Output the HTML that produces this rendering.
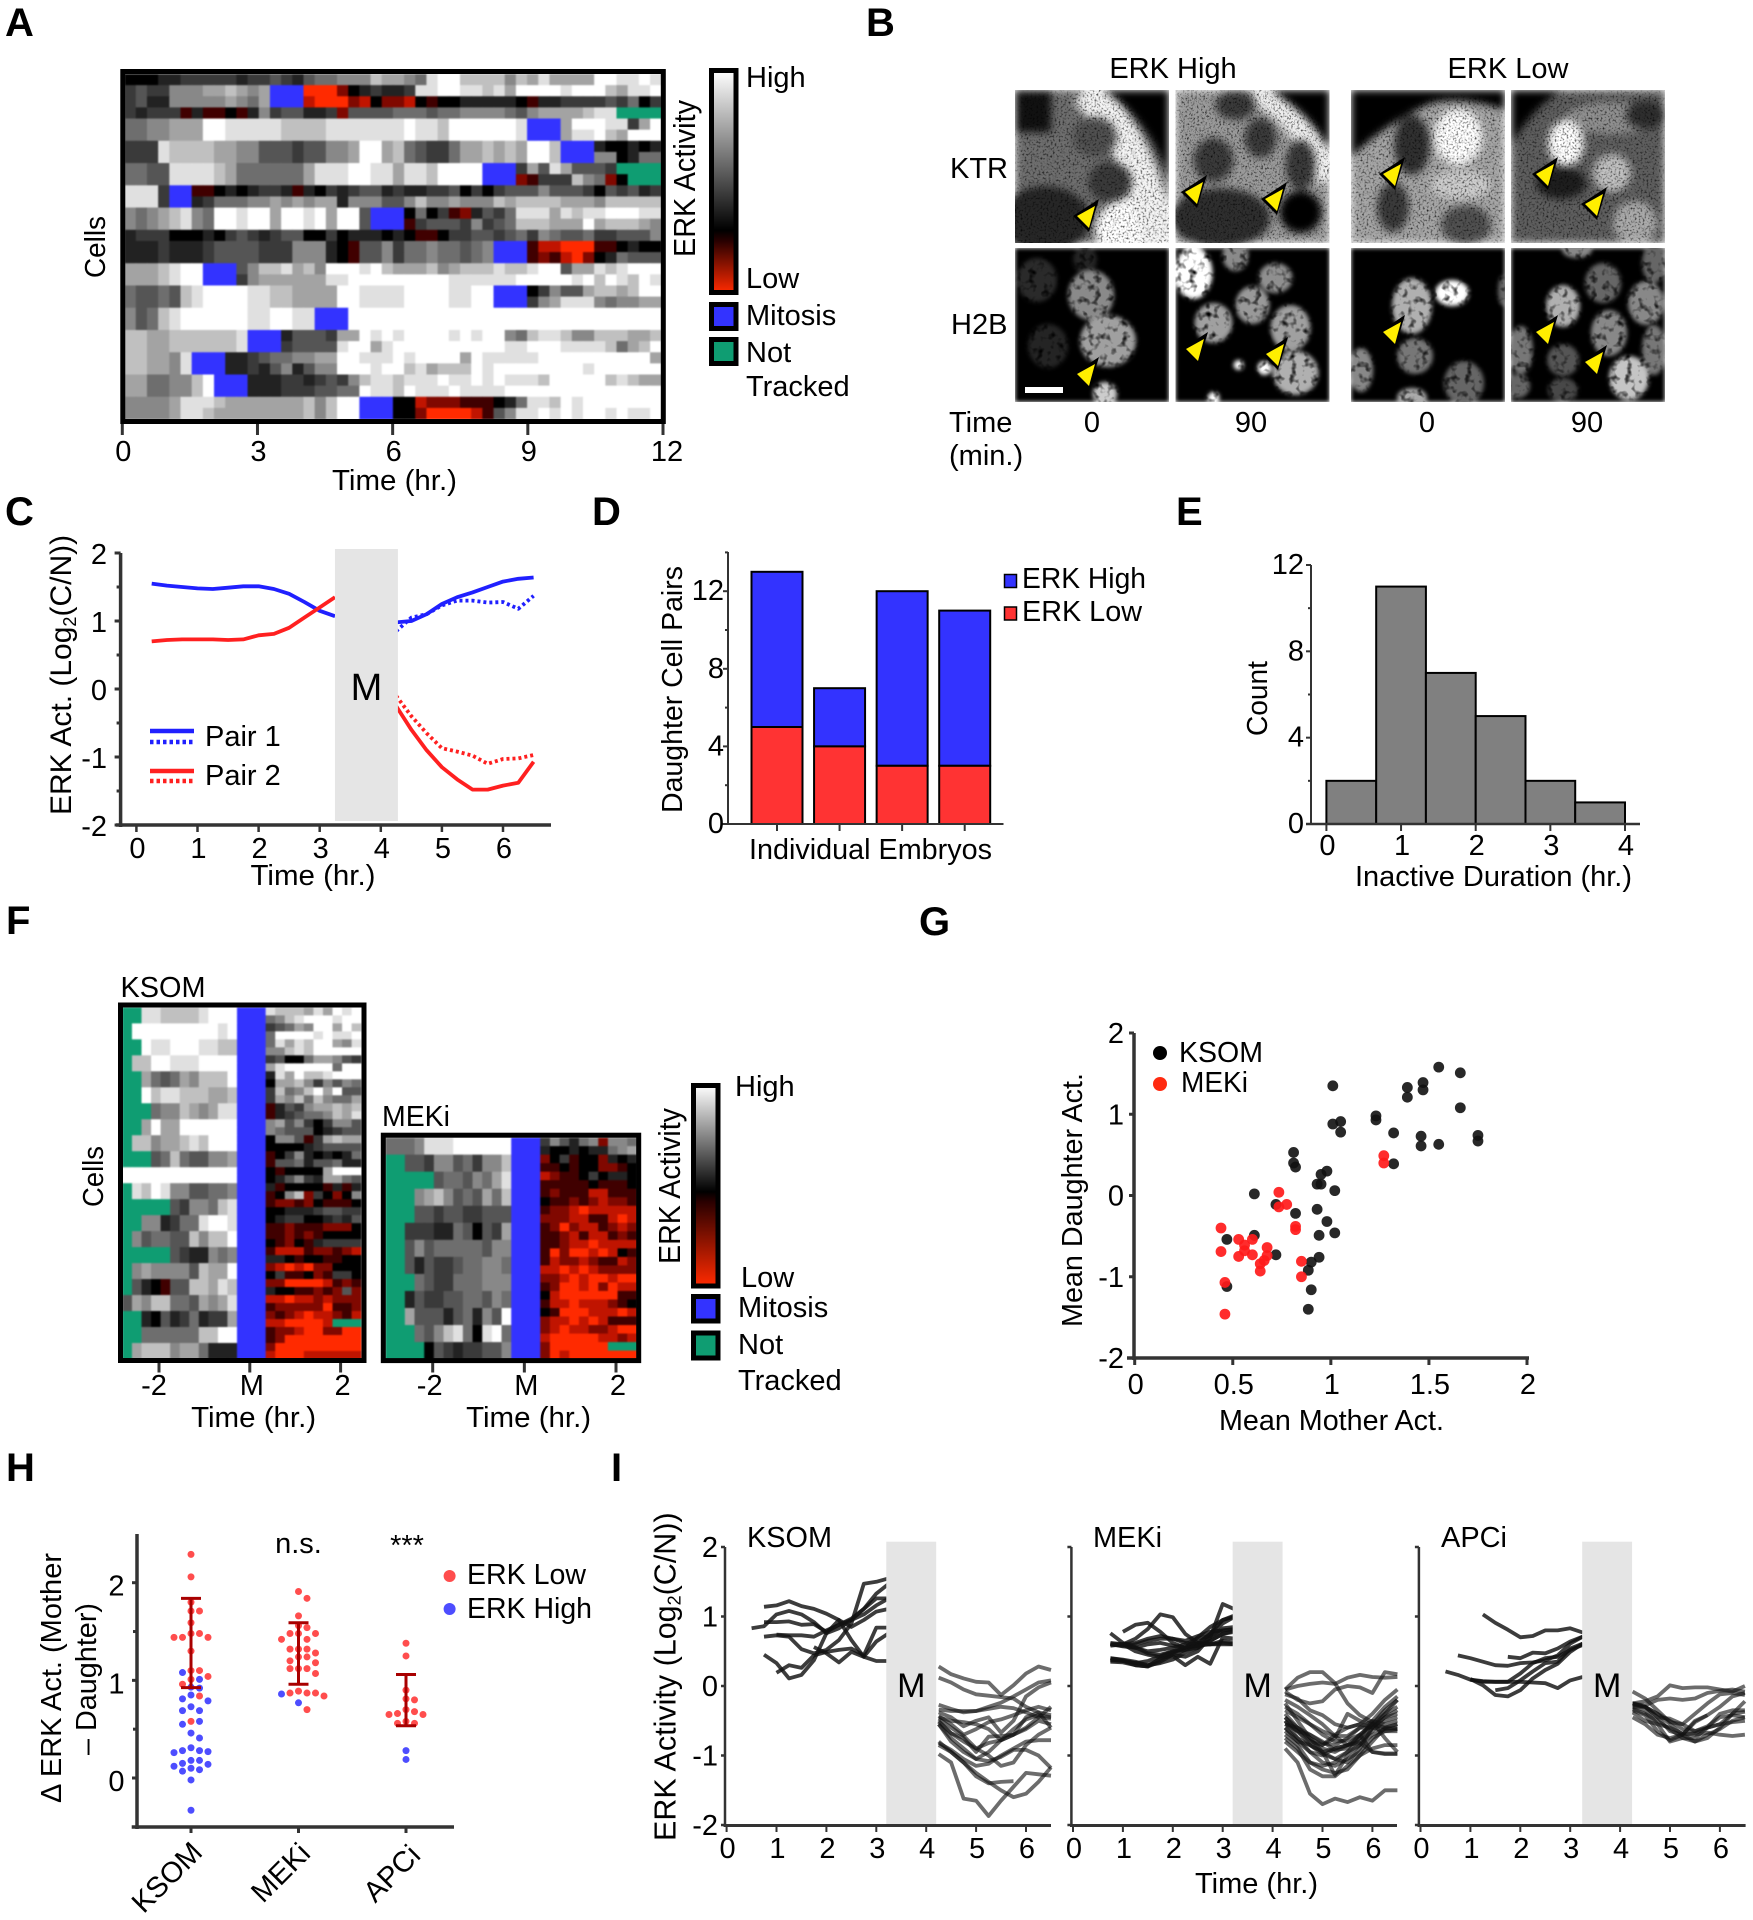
<!DOCTYPE html>
<html lang="en">
<head>
<meta charset="utf-8">
<title>ERK activity figure</title>
<style>
html,body{margin:0;padding:0;background:#fff}
svg{display:block}
text{font-family:"Liberation Sans",Arial,sans-serif;font-size:29px;fill:#000}
.big{font-weight:bold;font-size:40px}
</style>
</head>
<body>
<svg id="figure" xmlns="http://www.w3.org/2000/svg" width="1753" height="1920" viewBox="0 0 1753 1920">
<defs>
<linearGradient id="gradA" x1="0" y1="0" x2="0" y2="1">
<stop offset="0" stop-color="#fff"/><stop offset="0.72" stop-color="#000"/><stop offset="0.77" stop-color="#2a0000"/><stop offset="1" stop-color="#ff2a00"/>
</linearGradient>
<linearGradient id="gradF" x1="0" y1="0" x2="0" y2="1">
<stop offset="0" stop-color="#fff"/><stop offset="0.53" stop-color="#000"/><stop offset="0.58" stop-color="#2a0000"/><stop offset="1" stop-color="#ff2a00"/>
</linearGradient>
<filter id="soft" x="-2%" y="-2%" width="104%" height="104%" color-interpolation-filters="sRGB">
<feGaussianBlur stdDeviation="0.7"/>
</filter>
<filter id="speckle" x="0" y="0" width="1" height="1" color-interpolation-filters="sRGB">
<feGaussianBlur in="SourceGraphic" stdDeviation="4" result="b"/>
<feTurbulence type="fractalNoise" baseFrequency="0.5" numOctaves="2" seed="4" result="n"/>
<feColorMatrix in="n" type="matrix" values="0 0 0 2.2 -0.1 0 0 0 2.2 -0.1 0 0 0 2.2 -0.1 0 0 0 0 1" result="g"/>
<feComposite in="b" in2="g" operator="arithmetic" k1="1" k2="0" k3="0" k4="0"/>
</filter>
<filter id="nuclei" x="0" y="0" width="1" height="1" color-interpolation-filters="sRGB">
<feGaussianBlur in="SourceGraphic" stdDeviation="2" result="b"/>
<feTurbulence type="fractalNoise" baseFrequency="0.14" numOctaves="2" seed="9" result="n"/>
<feColorMatrix in="n" type="matrix" values="0 0 0 2.6 -0.3 0 0 0 2.6 -0.3 0 0 0 2.6 -0.3 0 0 0 0 1" result="g"/>
<feComposite in="b" in2="g" operator="arithmetic" k1="1" k2="0" k3="0" k4="0"/>
</filter>
</defs>

<!-- panel letters -->
<text class="big" x="5" y="36">A</text>
<text class="big" x="866" y="36">B</text>
<text class="big" x="5" y="525">C</text>
<text class="big" x="592" y="525">D</text>
<text class="big" x="1176" y="525">E</text>
<text class="big" x="6" y="934">F</text>
<text class="big" x="919" y="935">G</text>
<text class="big" x="6" y="1481">H</text>
<text class="big" x="611" y="1481">I</text>

<!-- panel A static -->
<g id="panel-a"></g>
<text transform="translate(105,278) rotate(-90)" textLength="62" lengthAdjust="spacingAndGlyphs">Cells</text>
<text x="394.5" y="490" text-anchor="middle" textLength="125" lengthAdjust="spacingAndGlyphs">Time (hr.)</text>
<text transform="translate(695,257) rotate(-90)" textLength="157" lengthAdjust="spacingAndGlyphs" style="font-size:31px">ERK Activity</text>
<rect x="711.5" y="70.5" width="24.5" height="222" fill="url(#gradA)" stroke="#000" stroke-width="5"/>
<text x="746" y="87">High</text>
<text x="746" y="288">Low</text>
<rect x="711.5" y="304.5" width="24.5" height="24" fill="#3333ff" stroke="#000" stroke-width="5"/>
<text x="746" y="325">Mitosis</text>
<rect x="711.5" y="339.5" width="24.5" height="24" fill="#0f9d72" stroke="#000" stroke-width="5"/>
<text x="746" y="362">Not</text>
<text x="746" y="396">Tracked</text>

<!-- panel B static -->
<g>
<text x="1173" y="78" text-anchor="middle">ERK High</text>
<text x="1508" y="78" text-anchor="middle">ERK Low</text>
<text x="950" y="178">KTR</text>
<text x="951" y="334">H2B</text>
<text x="949" y="432">Time</text>
<text x="949" y="465">(min.)</text>
<text x="1092" y="432" text-anchor="middle">0</text>
<text x="1251" y="432" text-anchor="middle">90</text>
<text x="1427" y="432" text-anchor="middle">0</text>
<text x="1587" y="432" text-anchor="middle">90</text>

<svg x="1015" y="90" width="154" height="153" viewBox="0 0 154 153"><g filter="url(#speckle)">
<rect width="154" height="153" fill="#6e6e6e"/><ellipse cx="125" cy="140" rx="45" ry="35" fill="#fff"/>
<path d="M70 0Q125 50 145 153" fill="none" stroke="#f4f4f4" stroke-width="34"/><path d="M88 0Q135 30 154 90L154 0Z" fill="#000"/>
<rect width="36" height="42" fill="#111"/><ellipse cx="30" cy="130" rx="45" ry="34" fill="#262626"/>
<ellipse cx="95" cy="92" rx="22" ry="20" fill="#3a3a3a"/><ellipse cx="80" cy="47" rx="22" ry="20" fill="#505050"/></g></svg>
<svg x="1175.5" y="90" width="154" height="153" viewBox="0 0 154 153"><g filter="url(#speckle)">
<rect width="154" height="153" fill="#9a9a9a"/><path d="M80 0Q130 30 154 90" fill="none" stroke="#eee" stroke-width="24"/>
<path d="M95 0Q135 25 154 60L154 0Z" fill="#000"/><ellipse cx="45" cy="128" rx="50" ry="30" fill="#2e2e2e"/>
<ellipse cx="38" cy="70" rx="20" ry="22" fill="#3a3a3a"/><ellipse cx="85" cy="48" rx="16" ry="20" fill="#3a3a3a"/><ellipse cx="60" cy="15" rx="20" ry="15" fill="#3a3a3a"/><ellipse cx="125" cy="75" rx="15" ry="25" fill="#3a3a3a"/>
<circle cx="125" cy="122" r="21" fill="#000"/></g></svg>
<svg x="1351" y="90" width="154" height="153" viewBox="0 0 154 153"><g filter="url(#speckle)">
<rect width="154" height="153" fill="#a5a5a5"/><path d="M0 0L154 0L154 20Q110 5 80 13Q35 33 0 67Z" fill="#000"/>
<ellipse cx="107" cy="47" rx="24" ry="28" fill="#fff"/><ellipse cx="61" cy="55" rx="18" ry="30" fill="#303030"/><ellipse cx="42" cy="117" rx="16" ry="25" fill="#3a3a3a"/><ellipse cx="115" cy="135" rx="25" ry="20" fill="#505050"/><ellipse cx="110" cy="95" rx="30" ry="15" fill="#ccc"/></g></svg>
<svg x="1511" y="90" width="154" height="153" viewBox="0 0 154 153"><g filter="url(#speckle)">
<rect width="154" height="153" fill="#5e5e5e"/><ellipse cx="100" cy="28" rx="45" ry="16" fill="#8f8f8f"/><path d="M0 0L50 0Q20 20 0 55Z" fill="#000"/>
<ellipse cx="50" cy="93" rx="25" ry="16" fill="#1e1e1e"/><ellipse cx="135" cy="25" rx="20" ry="14" fill="#2e2e2e"/>
<ellipse cx="55" cy="53" rx="18" ry="23" fill="#fff"/><circle cx="101" cy="83" r="19" fill="#c0c0c0"/><circle cx="124" cy="133" r="22" fill="#aaa"/></g></svg>

<svg x="1015" y="248" width="154" height="154" viewBox="0 0 154 154"><g filter="url(#nuclei)">
<rect width="154" height="154" fill="#000"/><ellipse cx="22" cy="32" rx="20" ry="22" fill="#2a2a2a"/><ellipse cx="70" cy="12" rx="12" ry="14" fill="#242424"/><ellipse cx="33" cy="98" rx="20" ry="22" fill="#242424"/>
<ellipse cx="76" cy="47" rx="23" ry="25" fill="#8a8a8a"/><ellipse cx="93" cy="93" rx="28" ry="26" fill="#a0a0a0"/><ellipse cx="90" cy="146" rx="12" ry="12" fill="#ccc"/></g></svg>
<svg x="1175.5" y="248" width="154" height="154" viewBox="0 0 154 154"><g filter="url(#nuclei)">
<rect width="154" height="154" fill="#000"/><ellipse cx="18" cy="25" rx="19" ry="26" fill="#fff"/><ellipse cx="60" cy="8" rx="13" ry="15" fill="#8a8a8a"/><ellipse cx="100" cy="30" rx="17" ry="15" fill="#8f8f8f"/><ellipse cx="77" cy="57" rx="17" ry="19" fill="#999"/><ellipse cx="38" cy="75" rx="19" ry="20" fill="#a0a0a0"/><ellipse cx="115" cy="80" rx="20" ry="23" fill="#a0a0a0"/><ellipse cx="120" cy="125" rx="23" ry="22" fill="#b0b0b0"/><circle cx="89" cy="120" r="7" fill="#fff"/><circle cx="63" cy="117" r="5" fill="#fff"/><circle cx="38" cy="150" r="6" fill="#fff"/></g></svg>
<svg x="1351" y="248" width="154" height="154" viewBox="0 0 154 154"><g filter="url(#nuclei)">
<rect width="154" height="154" fill="#000"/><ellipse cx="61" cy="58" rx="20" ry="28" fill="#b0b0b0"/><ellipse cx="101" cy="45" rx="17" ry="13" fill="#fff"/><ellipse cx="64" cy="108" rx="18" ry="18" fill="#777"/><ellipse cx="10" cy="122" rx="12" ry="22" fill="#888"/><ellipse cx="113" cy="135" rx="20" ry="22" fill="#666"/><ellipse cx="61" cy="150" rx="15" ry="10" fill="#aaa"/><ellipse cx="152" cy="43" rx="5" ry="15" fill="#666"/></g></svg>
<svg x="1511" y="248" width="154" height="154" viewBox="0 0 154 154"><g filter="url(#nuclei)">
<rect width="154" height="154" fill="#000"/><ellipse cx="52" cy="58" rx="17" ry="21" fill="#b0b0b0"/><ellipse cx="92" cy="35" rx="18" ry="20" fill="#666"/><ellipse cx="135" cy="55" rx="18" ry="22" fill="#888"/><ellipse cx="98" cy="85" rx="18" ry="23" fill="#888"/><ellipse cx="52" cy="112" rx="16" ry="16" fill="#555"/><ellipse cx="10" cy="102" rx="12" ry="24" fill="#777"/><ellipse cx="118" cy="130" rx="20" ry="22" fill="#c5c5c5"/><ellipse cx="143" cy="102" rx="12" ry="25" fill="#777"/><ellipse cx="52" cy="142" rx="15" ry="12" fill="#484848"/><ellipse cx="66" cy="2" rx="15" ry="8" fill="#888"/><ellipse cx="143" cy="15" rx="12" ry="20" fill="#666"/><circle cx="7" cy="138" r="12" fill="#666"/></g></svg>
<rect x="1025" y="387" width="38" height="6" fill="#fff"/>
<g id="b-arrows"></g>
</g>

<!-- panel C static -->
<g id="panel-c"></g>
<text transform="translate(71,815) rotate(-90)" style="font-size:30px">ERK Act. (Log<tspan dy="5" style="font-size:18px">2</tspan><tspan dy="-5">(C/N))</tspan></text>
<text x="313" y="885" text-anchor="middle" textLength="125" lengthAdjust="spacingAndGlyphs">Time (hr.)</text>
<line x1="150" y1="731" x2="194" y2="731" stroke="#2020ff" stroke-width="4.5"/>
<line x1="150" y1="742" x2="194" y2="742" stroke="#2020ff" stroke-width="4.5" stroke-dasharray="3.5 3"/>
<text x="205" y="746">Pair 1</text>
<line x1="150" y1="771" x2="194" y2="771" stroke="#ff2020" stroke-width="4.5"/>
<line x1="150" y1="781" x2="194" y2="781" stroke="#ff2020" stroke-width="4.5" stroke-dasharray="3.5 3"/>
<text x="205" y="785">Pair 2</text>

<!-- panel D static -->
<g id="panel-d"></g>
<text transform="translate(682,813) rotate(-90)" textLength="247" lengthAdjust="spacingAndGlyphs">Daughter Cell Pairs</text>
<text x="749" y="859" textLength="243" lengthAdjust="spacingAndGlyphs">Individual Embryos</text>
<rect x="1004.5" y="574.5" width="12" height="13" fill="#3333ff" stroke="#000" stroke-width="1.5"/>
<text x="1022" y="588" textLength="124" lengthAdjust="spacingAndGlyphs">ERK High</text>
<rect x="1004.5" y="607" width="12" height="13" fill="#ff3333" stroke="#000" stroke-width="1.5"/>
<text x="1022" y="621" textLength="120" lengthAdjust="spacingAndGlyphs">ERK Low</text>

<!-- panel E static -->
<g id="panel-e"></g>
<text transform="translate(1267,736) rotate(-90)" textLength="75" lengthAdjust="spacingAndGlyphs">Count</text>
<text x="1355" y="886" textLength="277" lengthAdjust="spacingAndGlyphs">Inactive Duration (hr.)</text>

<!-- panel F static -->
<g id="panel-f"></g>
<text x="120.5" y="997" textLength="85" lengthAdjust="spacingAndGlyphs">KSOM</text>
<text x="382" y="1126" textLength="68" lengthAdjust="spacingAndGlyphs">MEKi</text>
<text transform="translate(103,1207) rotate(-90)" textLength="61" lengthAdjust="spacingAndGlyphs">Cells</text>
<text x="253.6" y="1427" text-anchor="middle" textLength="125" lengthAdjust="spacingAndGlyphs">Time (hr.)</text>
<text x="528.6" y="1427" text-anchor="middle" textLength="125" lengthAdjust="spacingAndGlyphs">Time (hr.)</text>
<text transform="translate(680,1264) rotate(-90)" textLength="156" lengthAdjust="spacingAndGlyphs" style="font-size:31px">ERK Activity</text>
<rect x="693.5" y="1085.5" width="24.5" height="200.5" fill="url(#gradF)" stroke="#000" stroke-width="5"/>
<text x="735" y="1096">High</text>
<text x="741" y="1287">Low</text>
<rect x="693.5" y="1296.5" width="24.5" height="24.5" fill="#3333ff" stroke="#000" stroke-width="5"/>
<text x="738" y="1317">Mitosis</text>
<rect x="693.5" y="1333" width="24.5" height="25" fill="#0f9d72" stroke="#000" stroke-width="5"/>
<text x="738" y="1354">Not</text>
<text x="738" y="1390">Tracked</text>

<!-- panel G static -->
<g id="panel-g"></g>
<text transform="translate(1082,1327) rotate(-90)" textLength="254" lengthAdjust="spacingAndGlyphs">Mean Daughter Act.</text>
<text x="1219" y="1430" textLength="225" lengthAdjust="spacingAndGlyphs">Mean Mother Act.</text>
<circle cx="1160" cy="1053" r="7" fill="#000"/>
<text x="1179" y="1062" textLength="84" lengthAdjust="spacingAndGlyphs">KSOM</text>
<circle cx="1160" cy="1084" r="7" fill="#ff2a10"/>
<text x="1181" y="1092" textLength="67" lengthAdjust="spacingAndGlyphs">MEKi</text>

<!-- panel H static -->
<g id="panel-h"></g>
<text transform="translate(61,1803) rotate(-90)" textLength="250" lengthAdjust="spacingAndGlyphs">Δ ERK Act. (Mother</text>
<text transform="translate(96,1755) rotate(-90)" textLength="152" lengthAdjust="spacingAndGlyphs">– Daughter)</text>
<text x="298.5" y="1553" text-anchor="middle">n.s.</text>
<text x="407" y="1555" text-anchor="middle">***</text>
<circle cx="449.6" cy="1576" r="6" fill="#ff4d4d"/>
<text x="467" y="1584" textLength="119" lengthAdjust="spacingAndGlyphs">ERK Low</text>
<circle cx="449.6" cy="1609" r="6" fill="#4d4dff"/>
<text x="467" y="1618" textLength="125" lengthAdjust="spacingAndGlyphs">ERK High</text>

<!-- panel I static -->
<g id="panel-i"></g>
<text x="747" y="1547" textLength="85" lengthAdjust="spacingAndGlyphs">KSOM</text>
<text x="1093" y="1547" textLength="69" lengthAdjust="spacingAndGlyphs">MEKi</text>
<text x="1441" y="1547" textLength="66" lengthAdjust="spacingAndGlyphs">APCi</text>
<text transform="translate(675.6,1841) rotate(-90)" style="font-size:30.5px">ERK Activity (Log<tspan dy="5" style="font-size:18px">2</tspan><tspan dy="-5">(C/N))</tspan></text>
<text x="1195" y="1893" textLength="123" lengthAdjust="spacingAndGlyphs">Time (hr.)</text>
</svg>

<script>
/* ---------- Panel A heatmap: one string per cell row, tokens 0-9 grey level, a-d red level, M mitosis, N not tracked ---------- */
const heatARows = [
"0 0 0 1 1 2 2 2 2 2 1 2 2 3 2 1 3 4 4 5 5 5 7 6 6 5 4 8 9 9 7 7 7 7 5 7 6 8 6 6 6 6 9 9 8 8 9 8",
"2 3 2 2 5 5 5 6 6 7 6 5 6 M M M d d d b 0 1 2 1 1 2 8 8 9 9 8 8 7 8 6 9 9 9 9 8 9 9 9 7 6 8 8 9",
"2 3 1 1 5 5 5 5 5 6 5 4 6 M M M c d d d b c 0 b b c 0 a 0 0 1 1 1 1 1 0 a 1 1 2 2 2 2 3 2 4 0 2",
"2 1 2 2 2 a 1 a a 0 a 1 5 2 3 3 1 1 2 b 3 3 3 3 4 4 4 3 4 4 5 5 5 5 4 3 5 6 6 6 6 7 8 8 N N N N",
"4 4 5 5 6 6 6 9 9 8 8 8 8 8 7 7 7 7 8 8 8 8 8 8 8 9 8 8 7 9 9 9 9 9 9 8 M M M 6 9 9 9 8 8 2 6 9",
"4 4 5 5 6 6 6 9 9 8 8 8 8 8 7 7 7 7 8 8 8 8 8 8 8 9 8 8 7 9 9 9 9 9 9 8 M M M 6 8 8 9 7 6 9 9 9",
"2 2 2 8 7 7 7 7 6 6 5 5 3 3 3 2 3 3 5 5 6 9 9 6 7 4 3 2 2 4 6 6 7 6 7 6 9 9 7 M M M 1 0 0 1 0 1",
"2 2 2 8 7 7 7 7 6 6 5 5 3 3 3 2 3 3 5 5 6 9 9 6 7 4 3 2 2 4 6 6 7 6 7 6 9 9 7 M M M 5 5 0 1 4 4",
"4 4 3 3 8 8 8 8 7 6 4 4 4 4 4 4 6 8 8 8 9 9 8 8 6 8 8 7 9 9 9 9 M M M 2 6 3 8 6 3 3 3 2 N N N N",
"4 4 3 3 8 8 8 8 7 6 4 4 4 4 4 4 6 8 8 8 9 9 8 8 6 8 8 7 9 9 9 9 M M M b a 2 2 2 7 5 4 b 0 N N N",
"8 8 8 2 M M a a 0 1 0 1 2 2 1 a 1 0 2 1 2 3 3 1 2 1 1 2 2 3 0 2 0 2 3 3 3 5 3 3 3 2 0 3 2 3 1 2",
"8 8 8 2 M M 1 2 4 4 4 5 5 6 5 6 5 6 6 1 5 5 5 3 3 5 7 5 5 6 5 5 5 7 6 7 7 7 7 6 6 6 5 7 7 7 7 7",
"5 4 5 6 7 8 5 4 9 9 8 9 9 6 9 9 8 9 6 9 9 3 M M M 0 4 0 2 a b 1 3 2 4 8 8 8 6 8 7 8 8 9 9 9 8 8",
"5 4 5 6 7 8 5 4 9 9 8 9 9 6 9 9 8 9 6 9 9 3 M M M a 2 3 3 3 2 5 2 3 4 7 7 7 6 6 6 9 6 7 7 7 6 5",
"1 2 2 2 0 0 0 1 0 2 3 2 1 2 3 3 0 0 2 0 1 1 1 0 1 0 a a 0 2 2 3 3 2 3 4 2 5 4 3 3 4 2 2 3 3 3 5",
"1 1 1 2 1 1 1 2 3 3 3 3 2 2 2 5 5 5 1 0 a 3 3 5 2 4 4 5 4 4 3 4 5 M M M a c c d d d a a 0 1 0 0",
"1 1 1 2 1 1 1 2 3 3 3 3 2 2 2 5 5 5 1 0 a 3 3 5 2 4 4 5 4 4 3 4 5 M M M a b a c d b 0 1 4 3 3 3",
"6 6 6 7 8 9 9 M M M 3 5 7 7 8 6 7 5 9 9 9 8 9 7 6 6 6 7 5 6 7 7 7 8 7 7 8 9 9 3 6 6 8 7 8 9 9 9",
"6 6 6 7 8 9 9 M M M 2 5 6 6 6 6 6 6 8 8 9 9 9 9 9 9 9 9 9 8 8 8 8 8 8 9 9 9 9 9 8 9 7 9 8 7 9 8",
"4 3 3 4 3 7 8 9 9 9 9 8 8 7 7 6 6 6 6 9 9 8 8 8 8 9 9 9 9 8 8 9 9 M M M 0 2 5 3 3 6 7 7 6 7 9 9",
"4 3 3 4 3 7 8 9 9 9 9 8 8 7 7 6 6 6 6 9 9 8 8 8 8 9 9 9 9 8 8 9 9 M M M 2 5 6 8 8 8 5 4 5 5 6 6",
"5 3 4 7 8 9 9 9 9 9 9 8 8 9 9 8 8 M M M 9 9 9 9 9 9 9 9 9 9 9 9 9 9 9 9 9 9 9 9 9 9 9 9 9 9 9 9",
"5 3 4 7 8 9 9 9 9 9 9 8 8 9 9 8 8 M M M 9 9 9 9 9 9 9 9 9 9 9 9 9 9 9 9 9 9 9 9 9 9 9 9 9 9 9 9",
"7 7 6 6 7 7 7 7 7 7 8 M M M 1 3 3 3 2 6 6 9 8 9 8 9 9 9 9 8 9 8 9 9 5 4 7 8 8 7 5 5 7 7 7 6 6 7",
"7 7 6 6 7 7 7 7 7 7 8 M M M 2 3 3 3 3 8 9 9 6 8 9 9 9 9 9 9 9 9 9 9 8 8 9 9 9 8 8 8 8 7 4 6 7 9",
"7 7 6 6 5 8 M M M 1 1 2 3 4 4 5 5 6 6 9 9 8 8 8 9 8 9 9 9 9 6 9 8 8 8 8 8 9 9 9 9 9 9 9 9 9 9 6",
"7 7 6 6 5 8 M M M 1 1 2 1 3 5 1 3 5 5 9 9 9 8 9 9 7 8 6 7 7 7 9 8 9 9 9 9 9 9 9 9 8 9 9 9 9 9 9",
"6 6 4 4 5 5 7 9 M M M 1 1 1 2 2 1 2 3 2 5 7 8 8 7 8 8 8 9 8 8 9 8 9 8 8 8 7 9 9 9 9 9 7 8 7 6 6",
"6 6 4 4 5 5 7 9 M M M 1 1 1 2 2 2 3 3 4 4 9 8 8 7 9 8 8 8 9 8 8 8 8 9 9 9 9 9 9 9 9 9 9 9 9 9 9",
"5 5 5 5 6 8 8 8 7 6 6 6 6 6 6 6 7 5 7 9 9 M M M 0 0 c b b b a a a 0 1 4 8 8 7 9 8 9 9 9 9 9 9 9",
"5 5 5 5 6 8 8 7 6 6 6 6 6 6 6 6 7 5 7 9 9 M M M 0 0 b d d d d c a 3 5 8 8 9 8 9 8 9 9 8 9 8 8 9"
];

/* ---------- Panel F heatmaps: mother columns per cell pair, daughter columns per row ---------- */
const ksomMotherRows = [
"N N 8 8 7 7 7 7 8 9 9 9","N 9 9 9 9 9 9 9 9 9 8 9","N N 9 8 8 9 9 9 8 8 7 7","N 7 7 9 9 8 8 8 9 9 9 9",
"N N 6 4 3 4 6 5 7 7 7 9","N N 9 7 8 8 7 7 7 6 6 7","N N N 4 5 5 7 6 5 6 8 8","N N 6 9 6 6 9 9 9 9 9 9",
"N 7 7 5 6 6 7 8 7 9 9 9","N N N 3 4 7 4 3 3 5 5 6","9 9 9 9 9 9 9 9 9 9 9 9","N 8 7 9 8 5 5 3 3 4 4 5",
"N N N N N 3 2 5 5 4 7 8","N N 5 5 1 2 4 4 8 9 9 8","N 5 3 4 4 3 3 7 5 7 7 9","N N N N N 3 2 1 1 5 4 5",
"N 5 6 5 5 5 5 3 7 6 6 9","N 3 1 0 a 3 3 7 7 6 8 7","3 6 5 7 7 4 4 3 6 5 6 8","N N 1 0 3 1 2 4 1 2 2 6",
"N N 4 4 4 4 4 4 7 7 9 9","N 6 7 7 7 5 6 6 4 1 1 1"];
const ksomDaughterRows = [
"8 7 7 7 6 8 6 9 8 9","4 5 7 8 9 9 9 8 9 9","2 3 4 6 5 9 9 6 9 7","4 9 9 9 9 8 9 8 8 9","4 8 6 8 7 9 9 6 5 8",
"5 5 7 8 7 9 9 9 9 9","2 3 0 0 4 6 6 5 3 2","6 8 9 9 9 9 9 4 9 9","1 8 6 9 7 7 8 9 9 9","0 6 6 7 5 2 5 3 5 4",
"2 7 4 5 7 9 6 9 3 3","2 6 5 7 4 7 5 4 4 6","a 1 3 2 5 6 6 7 6 7","a 1 2 3 4 4 5 7 6 8","5 6 3 5 2 0 2 5 5 3",
"5 4 3 3 3 0 1 2 3 3","0 5 5 3 a 2 6 7 6 6","0 0 0 0 1 2 3 3 3 3","a 0 2 5 1 0 1 0 1 4","a 3 3 4 1 3 3 4 1 1",
"0 a 0 0 0 0 6 9 9 9","0 1 3 5 2 1 6 6 4 3","1 a 0 0 0 0 a 1 a 1","a 0 5 7 b 2 0 b 0 5","a b b a b 0 a a a 0",
"0 0 1 1 1 2 3 3 2 2","0 1 2 2 0 0 1 2 1 3","a a b a a a b b b 0","a a b a b a 0 0 0 0","0 a b 0 a 1 2 2 2 2",
"a c c c a b b a b c","1 1 0 a 0 0 a a 0 0","b c d c d b b 0 0 0","0 2 a a 0 b a 2 2 0","b b d d d d c a b a",
"1 0 0 a a b a b 3 b","c c d c c b c b b b","a b b b b b d a a b","b a b c d c c b a c","c c d d d d c N N N",
"a b b c d d b b d d","a b d d d d d d d d","b d d d d d d d d d","c d d d c c c c c c"];
const mekiMotherRows = [
"4 4 4 5 8 8 8 9 9 9 9 9 9","N N 3 3 2 5 5 3 4 2 5 5 7","N N N N N 3 4 4 3 5 4 6 8","N N N 5 6 7 5 3 4 3 6 4 7",
"N N N 3 3 2 3 3 2 2 3 3 3","N N 2 2 2 1 1 4 3 0 3 2 6","N N 3 5 3 4 4 4 4 4 3 5 5","N N 3 1 3 2 2 3 4 4 5 5 4",
"N N N 4 3 2 2 4 4 4 5 5 5","N N 1 3 2 2 3 3 4 4 3 5 4","N N 6 3 3 3 1 3 4 1 5 3 9","N N N 4 3 5 7 8 4 0 8 9 4",
"N N N N 0 3 2 1 2 2 3 3 5"];
const mekiDaughterRows = [
"2 5 3 1 4 5 b 5 5 4","1 0 0 1 0 1 1 4 5 6","b 0 2 a 0 0 b 1 0 1","a a 0 a 0 0 b b a 0","c b a a 0 2 0 1 1 0",
"a a a a a 0 a a a 0","a b a a a c c a a a","0 a a b a b c b b a","a b b c d c c c c c","b b b c c a a c d c",
"a b d b c c a b c b","a a b c a c c a b a","a a b c c d c c c c","a d b d d c d c 0 a","a c b b c b a a c b",
"c c d c d c b b b b","b b c d c d d c d d","a b d d c d b d c c","0 c d d d d d d a a","a c c d c c c b a 0",
"0 a d d d c c c d c","b c c d c d c a a a","b c d c c b b c d d","c d d d d d c c b c","b d d d d d d N N N","b d c d d d d d d d"];
const mitosisColumns = ["M","M","M"];

/* ---------- Panel C ---------- */
const cMotherTimes = [0.25,0.5,0.75,1,1.25,1.5,1.75,2,2.25,2.5,2.75,3,3.25];
const cDaughterTimes = [4.25,4.5,4.75,5,5.25,5.5,5.75,6,6.25,6.5];
const cBlueMother = [1.55,1.52,1.50,1.48,1.47,1.49,1.51,1.51,1.47,1.40,1.28,1.15,1.07];
const cRedMother = [0.70,0.72,0.73,0.73,0.73,0.72,0.73,0.79,0.81,0.90,1.05,1.2,1.35];
const cBlueSolid = [0.98,1.0,1.1,1.25,1.35,1.42,1.50,1.58,1.62,1.64];
const cBlueDotted = [0.85,1.05,1.1,1.23,1.30,1.30,1.27,1.28,1.18,1.37];
const cRedSolid = [-0.25,-0.6,-0.9,-1.15,-1.33,-1.48,-1.48,-1.42,-1.38,-1.07];
const cRedDotted = [-0.1,-0.4,-0.65,-0.87,-0.92,-0.98,-1.1,-1.03,-1.02,-0.97];
const cMitosisSpan = [3.25,4.28];
const cXTicks = [0,1,2,3,4,5,6];
const cYTicks = [2,1,0,-1,-2];
const cYMinor = [1.5,0.5,-0.5,-1.5];

/* ---------- Panel D ---------- */
const dEmbryos = ["embryo-1","embryo-2","embryo-3","embryo-4"];
const dLowCounts = [5,4,3,3];
const dHighCounts = [8,3,9,8];
const dYTicks = [0,4,8,12];
const dYMinor = [2,6,10,14];

/* ---------- Panel E ---------- */
const eCounts = [2,11,7,5,2,1];
const eBinEdges = [0,0.667,1.333,2,2.667,3.333,4];
const eXTicks = [0,1,2,3,4];
const eYTicks = [0,4,8,12];
const eYMinor = [2,6,10];

/* ---------- Panel G ---------- */
const gKsomMother = [1.55,1.66,1.47,1.47,1.39,1.39,1.01,1.66,1.23,1.23,1.01,1.05,1.05,1.32,1.46,1.46,1.55,1.75,1.75,1.32,0.81,0.81,0.82,0.98,0.95,0.93,0.95,1.02,0.61,0.72,0.82,0.93,0.98,1.02,0.94,0.61,0.47,0.72,0.94,0.90,0.885,0.90,0.885,0.47];
const gKsomDaughter = [1.58,1.51,1.39,1.30,1.33,1.21,1.35,1.08,0.98,0.93,0.88,0.91,0.78,0.77,0.73,0.61,0.63,0.74,0.67,0.39,0.53,0.40,0.35,0.30,0.26,0.14,0.14,0.06,0.02,-0.11,-0.22,-0.17,-0.32,-0.46,-0.49,-0.49,-0.54,-0.73,-0.76,-0.82,-0.92,-1.16,-1.40,-1.12];
const gMekiMother = [1.27,1.27,0.735,0.735,0.775,0.82,0.82,0.44,0.44,0.53,0.53,0.56,0.56,0.60,0.60,0.675,0.675,0.66,0.64,0.64,0.85,0.85,0.46,0.46];
const gMekiDaughter = [0.49,0.40,0.04,-0.14,-0.11,-0.38,-0.42,-0.40,-0.69,-0.54,-0.75,-0.61,-0.68,-0.54,-0.73,-0.64,-0.74,-0.80,-0.84,-0.93,-0.81,-1.0,-1.07,-1.46];
const gXTicks = [0,0.5,1,1.5,2];
const gYTicks = [2,1,0,-1,-2];

/* ---------- Panel H ---------- */
const hCategories = ["KSOM","MEKi","APCi"];
const hKsomLow = [2.29,2.06,1.8,1.71,1.71,1.59,1.48,1.48,1.44,1.44,1.44,1.30,1.10,1.10,1.04,1.01,0.96,0.84,0.58];
const hKsomHigh = [1.08,1.01,0.93,0.92,0.85,0.81,0.79,0.73,0.69,0.69,0.58,0.55,0.46,0.41,0.31,0.28,0.27,0.26,0.28,0.18,0.18,0.14,0.15,0.12,0.10,0.085,0.07,-0.02,-0.33];
const hMekiLow = [1.91,1.84,1.66,1.56,1.54,1.48,1.48,1.48,1.42,1.42,1.32,1.32,1.32,1.28,1.24,1.24,1.20,1.18,1.12,1.12,1.12,1.07,0.89,0.87,0.87,0.87,0.84,0.70];
const hMekiHigh = [0.86,0.77];
const hApciLow = [1.38,1.25,0.90,0.81,0.80,0.70,0.68,0.66,0.65,0.65,0.58,0.56,0.56];
const hApciHigh = [0.28,0.19];
const hErrorTop = [1.84,1.59,1.06];
const hErrorBottom = [0.925,0.96,0.535];
const hYTicks = [2,1,0];
const hYMinor = [1.5,0.5];

/* ---------- Panel I ---------- */
const iXTicks = [0,1,2,3,4,5,6];
const iYTicks = [2,1,0,-1,-2];
const iMitosisSpan = [3.2,4.2];
const iDaughterTimes = [4.25,4.5,4.75,5,5.25,5.5,5.75,6,6.25,6.5];
const iKsomMotherTimes = [0.5,0.75,1,1.25,1.5,1.75,2,2.25,2.5,2.75,3,3.25];
const iKsomMothers = [
[null,1.14,1.16,1.22,1.15,1.11,1.04,0.95,0.66,0.42,0.36,0.36],
[0.83,0.86,1.03,1.08,1.03,0.92,0.76,0.83,0.95,1.03,1.16,1.26],
[null,0.92,0.92,0.93,0.88,0.89,0.78,0.88,0.97,1.11,1.33,1.47],
[null,0.71,0.73,0.71,0.53,0.47,0.52,0.66,0.90,1.47,1.50,1.55],
[null,null,0.74,0.73,0.73,0.71,0.80,0.88,0.95,1.11,1.26,1.26],
[null,0.45,0.33,0.11,0.16,0.37,0.76,0.95,0.85,0.95,1.07,1.11],
[null,null,0.19,0.30,0.26,0.44,0.49,0.52,0.54,0.44,0.84,0.84],
[null,null,null,null,null,0.56,0.47,0.34,0.49,0.42,0.64,0.76]];
const iKsomDaughters = [
[0.28,0.17,0.11,0.06,0.05,-0.13,0.01,0.18,0.28,0.23],
[0.12,0.05,-0.05,-0.12,-0.14,-0.16,-0.18,-0.30,-0.38,-0.42],
[-0.27,-0.33,-0.38,-0.36,-0.30,-0.24,-0.15,-0.05,0.05,0.08],
[-0.34,-0.36,-0.36,-0.36,-0.33,-0.3,-0.32,-0.38,-0.45,-0.47],
[-0.38,-0.45,-0.58,-0.5,-0.45,-0.67,-0.5,-0.15,-0.02,0.05],
[-0.43,-0.55,-0.7,-0.62,-0.52,-0.48,-0.42,-0.35,-0.3,-0.35],
[-0.47,-0.6,-0.72,-0.9,-0.82,-0.78,-0.7,-0.45,-0.38,-0.6],
[-0.5,-0.68,-0.75,-0.95,-0.73,-0.72,-0.7,-0.62,-0.5,-0.55],
[-0.55,-0.8,-0.95,-1.05,-0.95,-0.78,-0.62,-0.48,-0.42,-0.45],
[-0.82,-0.92,-1.05,-1.15,-1.12,-1.0,-0.9,-0.8,-0.78,-0.78],
[-0.8,-0.95,-1.1,-1.3,-1.4,-1.38,-1.37,null,null,null],
[-0.98,-1.1,-1.62,-1.65,-1.87,-1.65,-1.45,-1.25,-1.27,-1.29],
[-0.55,-0.75,-0.9,-1.05,-1.08,-1.02,-0.92,-0.92,-1.0,-1.18],
[-0.85,-0.95,-1.1,-1.25,-1.38,-1.5,-1.6,-1.55,-1.38,-1.17],
[-0.45,-0.5,-0.52,-0.55,-0.62,-0.78,-0.7,-0.6,-0.45,-0.3],
[-0.52,-0.68,-0.8,-0.9,-1.0,-1.15,-1.1,-0.85,-0.7,-0.6]];
const iMekiMotherTimes = [0.75,1,1.25,1.5,1.75,2,2.25,2.5,2.75,3,3.25];
const iMekiMothers = [
[0.76,0.62,0.56,0.47,0.45,0.5,0.55,0.62,0.75,0.95,1.0],
[null,0.78,0.88,0.91,0.78,0.62,0.55,0.58,0.65,0.75,0.8],
[0.6,0.6,0.68,0.82,1.03,0.99,0.75,0.62,0.6,0.65,0.62],
[0.6,0.58,0.6,0.65,0.68,0.68,0.65,0.72,0.78,0.8,0.82],
[0.6,0.57,0.55,0.5,0.52,0.55,0.6,0.68,0.72,0.8,0.82],
[0.4,0.38,0.35,0.3,0.38,0.45,0.42,0.5,0.7,1.18,1.1],
[0.38,0.36,0.3,0.28,0.4,0.43,0.3,0.42,0.32,0.7,0.68],
[0.4,0.37,0.33,0.36,0.43,0.5,0.52,0.62,0.6,0.62,0.6],
[0.35,0.34,0.3,0.28,0.35,0.45,0.52,0.55,0.65,0.75,0.78],
[0.6,0.6,0.5,0.45,0.42,0.48,0.55,0.7,0.85,0.95,1.02],
[0.58,0.6,0.62,0.68,0.72,0.68,0.62,0.6,0.75,0.9,1.0],
[0.62,0.6,0.55,0.6,0.62,0.58,0.55,0.58,0.6,0.6,0.6],
[0.37,0.36,0.33,0.3,0.33,0.38,0.48,0.55,0.7,0.83,0.85]];
const iMekiDaughters = [
[-0.05,0.12,0.2,0.2,0.04,-0.25,-0.42,-0.52,-0.75,-0.95],
[-0.05,0.0,0.03,0.05,0.03,0.12,0.16,0.13,0.12,0.13],
[-0.08,-0.2,-0.25,-0.22,-0.05,0.0,-0.02,-0.1,0.2,0.17],
[-0.12,-0.18,-0.35,-0.42,-0.55,-0.6,-0.55,-0.4,-0.2,-0.05],
[-0.2,-0.3,-0.42,-0.55,-0.72,-0.85,-0.75,-0.5,-0.3,-0.15],
[-0.25,-0.5,-0.75,-0.95,-1.28,-1.0,-0.85,-0.6,-0.4,-0.2],
[-0.4,-0.6,-0.78,-0.9,-0.95,-0.85,-0.7,-0.55,-0.35,-0.2],
[-0.45,-0.65,-0.85,-0.95,-0.9,-0.85,-0.8,-0.65,-0.5,-0.45],
[-0.5,-0.75,-0.85,-0.98,-1.05,-0.95,-0.85,-0.7,-0.62,-0.6],
[-0.55,-0.6,-0.7,-0.82,-0.85,-0.75,-0.6,-0.5,-0.55,-0.5],
[-0.6,-0.75,-0.95,-1.1,-1.15,-1.05,-0.95,-0.75,-0.65,-0.62],
[-0.5,-0.65,-0.8,-0.85,-0.75,-0.4,-0.5,-0.55,-0.6,-0.62],
[-0.35,-0.45,-0.55,-0.7,-0.8,-0.78,-0.7,-0.95,-0.98,-0.98],
[-0.6,-0.8,-0.95,-1.0,-0.9,-0.85,-0.82,-0.95,-0.97,-0.97],
[-0.7,-0.85,-1.1,-1.2,-1.25,-1.2,-1.0,-0.8,-0.6,-0.55],
[-0.75,-0.9,-1.2,-1.3,-1.3,-1.15,-1.0,-0.9,-0.85,-0.85],
[-0.9,-1.1,-1.55,-1.7,-1.62,-1.67,-1.6,-1.65,-1.5,-1.5],
[-0.65,-0.8,-0.85,-0.95,-1.05,-1.1,-0.9,-0.6,-0.45,-0.35],
[-0.45,-0.6,-0.75,-0.85,-0.7,-0.6,-0.55,-0.6,-0.65,-0.65],
[-0.3,-0.4,-0.55,-0.65,-0.72,-0.72,-0.6,-0.6,-0.45,-0.4],
[-0.55,-0.65,-0.7,-0.8,-0.92,-0.9,-0.7,-0.55,-0.6,-0.55],
[-0.8,-0.95,-1.1,-1.15,-1.1,-0.95,-0.75,-0.55,-0.4,-0.3]];
const iApciMotherTimes = [0.5,0.75,1,1.25,1.5,1.75,2,2.25,2.5,2.75,3,3.25];
const iApciMothers = [
[null,null,null,1.03,0.91,0.81,0.70,0.72,0.80,0.80,0.83,0.77],
[null,0.44,0.40,0.35,0.30,0.29,0.33,0.34,0.37,0.44,0.61,0.71],
[null,null,null,null,null,0.42,0.40,0.48,0.47,0.54,0.64,0.71],
[0.21,0.16,0.09,0.06,0.06,0.06,0.18,0.33,0.40,0.42,0.52,0.59],
[null,null,0.10,0.01,-0.13,-0.15,-0.06,0.11,0.23,0.32,0.49,0.61],
[null,null,null,null,-0.06,-0.03,0.08,0.21,0.33,0.35,0.54,0.61],
[null,null,0.09,0.07,0.06,0.06,0.06,0.05,0.04,-0.03,0.08,0.13]];
const iApciDaughters = [
[-0.25,-0.22,-0.15,0.01,-0.03,-0.02,-0.02,-0.05,-0.08,0.0],
[-0.25,-0.28,-0.2,-0.18,-0.2,-0.18,-0.1,-0.07,-0.05,-0.08],
[-0.08,-0.18,-0.35,-0.52,-0.55,-0.65,-0.6,-0.4,-0.35,-0.35],
[-0.25,-0.3,-0.4,-0.55,-0.7,-0.8,-0.7,-0.62,-0.5,-0.45],
[-0.3,-0.35,-0.55,-0.8,-0.75,-0.8,-0.75,-0.6,-0.4,-0.37],
[-0.35,-0.42,-0.65,-0.78,-0.7,-0.5,-0.42,-0.3,-0.15,-0.1],
[-0.38,-0.5,-0.55,-0.6,-0.68,-0.7,-0.67,-0.7,-0.72,-0.7],
[-0.3,-0.3,-0.4,-0.5,-0.62,-0.65,-0.58,-0.45,-0.42,-0.45],
[-0.45,-0.55,-0.7,-0.75,-0.7,-0.52,-0.42,null,null,null],
[-0.25,-0.3,-0.45,-0.65,-0.7,-0.68,-0.6,-0.55,-0.52,-0.5],
[-0.27,-0.3,-0.45,-0.47,-0.55,-0.4,-0.25,-0.12,-0.1,-0.13],
[-0.33,-0.4,-0.5,-0.62,-0.75,-0.75,-0.6,-0.55,-0.4,-0.22]];

/* ---------- helpers ---------- */
const NS = 'http://www.w3.org/2000/svg';
function mk(tag, attrs, parent) {
  const e = document.createElementNS(NS, tag);
  for (const k in attrs) e.setAttribute(k, attrs[k]);
  parent.appendChild(e);
  return e;
}
const linear = (d0, d1, r0, r1) => v => r0 + (v - d0) * (r1 - r0) / (d1 - d0);
const GREYS = ['#000000','#222222','#3a3a3a','#555555','#6e6e6e','#888888','#a3a3a3','#c0c0c0','#e0e0e0','#ffffff'];
const REDS = {a:'#400000', b:'#800800', c:'#c01400', d:'#ff2a00'};
function levelColor(t) {
  if (t === 'M') return '#3333ff';
  if (t === 'N') return '#0f9d72';
  if (REDS[t]) return REDS[t];
  return GREYS[+t];
}
function drawHeat(rows, x0, y0, cw, ch, parent, name) {
  const group = mk('g', {filter: 'url(#soft)'}, parent);
  
  
  rows.forEach((row, r) => {
    row.forEach((t, c) => {
      const cell = mk('rect', {x: x0 + c * cw, y: y0 + r * ch, width: cw + 0.4, height: ch + 0.4, fill: levelColor(t)}, group);
      
      
    });
  });
}
function drawFrame(x, y, w, h, sw, parent, name) {
  const f = mk('rect', {x, y, width: w, height: h, fill: 'none', stroke: '#000', 'stroke-width': sw}, parent);
  
  
}
function axisLine(x1, y1, x2, y2, sw, parent, name) {
  const l = mk('line', {x1, y1, x2, y2, stroke: '#333', 'stroke-width': sw}, parent);
  
  
}
function xTicks(values, labels, sc, y, len, sw, labelY, parent, name, dx) {
  values.forEach((v, i) => {
    axisLine(sc(v), y, sc(v), y + len, sw, parent, name + '-tick');
    if (labels && labels[i] !== undefined) {
      const t = mk('text', {x: sc(v) + (dx ? dx(labels[i]) : 1), y: labelY, 'text-anchor': 'middle'}, parent);
      t.textContent = labels[i];
      
      
    }
  });
}
function yTicks(values, labels, sc, x, len, sw, labelX, dy, parent, name) {
  values.forEach((v, i) => {
    axisLine(x - len, sc(v), x, sc(v), sw, parent, name + '-tick');
    if (labels && labels[i] !== undefined) {
      const t = mk('text', {x: labelX, y: sc(v) + dy, 'text-anchor': 'end'}, parent);
      t.textContent = labels[i];
      
      
    }
  });
}
function polyPath(times, values, sx, sy) {
  let d = '', pen = false;
  values.forEach((v, i) => {
    if (v === null) { pen = false; return; }
    d += (pen ? 'L' : 'M') + sx(times[i]).toFixed(1) + ' ' + sy(v).toFixed(1);
    pen = true;
  });
  return d;
}
function swarm(values, spacing, minDist, sy) {
  const placed = [];
  const offs = [];
  values.forEach((v, i) => {
    const y = sy(v);
    for (let k = 0; k < 12; k++) {
      const off = (k % 2 ? 1 : -1) * Math.ceil(k / 2) * spacing;
      if (placed.every(p => Math.hypot(p.x - off, p.y - y) >= minDist)) {
        placed.push({x: off, y});
        offs[i] = off;
        break;
      }
    }
    if (offs[i] === undefined) offs[i] = 0;
  });
  return offs;
}

/* ---------- Panel A ---------- */
(function () {
  const g = document.getElementById('panel-a');
  const rows = heatARows.map(s => s.split(' '));
  drawHeat(rows, 124.6, 74, 11.18, 11.13, g, 'a-heatmap');
  drawFrame(122.8, 71.5, 540.5, 350, 5, g, 'a-heatmap-frame');
  const sx = linear(0, 12, 122.3, 663);
  const aTicks = [0, 3, 6, 9, 12];
  xTicks(aTicks, aTicks.map(String), sx, 424, 11, 3, 461, g, 'a-x-axis', l => l === '12' ? 4 : 1);
})();

/* ---------- Panel B arrowheads ---------- */
(function () {
  const g = document.getElementById('b-arrows');
  const tips = [[1099,199],[1207,175],[1287,182],[1405,157],[1558,157],[1607,187],[1099,357],[1208,332],[1288,337],[1405,315],[1558,315],[1607,345]];
  tips.forEach(p => {
    const outer = mk('polygon', {points: [[0,0],[-26,17],[-10,33]].map(q => (p[0]+q[0])+','+(p[1]+q[1])).join(' '), fill: '#000'}, g);
    
    
    const inner = mk('polygon', {points: [[-4,7],[-22,17],[-10,29]].map(q => (p[0]+q[0])+','+(p[1]+q[1])).join(' '), fill: '#ffee00'}, g);
    
    
  });
})();

/* ---------- Panel C ---------- */
(function () {
  const g = document.getElementById('panel-c');
  const sx = linear(0, 6, 136.4, 503);
  const sy = linear(-2, 2, 825, 553);
  const series = [
    [cMotherTimes, cBlueMother, '#2020ff', null, 'c-line-blue-mother'],
    [cMotherTimes, cRedMother, '#ff2020', null, 'c-line-red-mother'],
    [cDaughterTimes, cBlueDotted, '#2020ff', '3 3', 'c-line-pair-1-dotted'],
    [cDaughterTimes, cBlueSolid, '#2020ff', null, 'c-line-pair-1-solid'],
    [cDaughterTimes, cRedDotted, '#ff2020', '3 3', 'c-line-pair-2-dotted'],
    [cDaughterTimes, cRedSolid, '#ff2020', null, 'c-line-pair-2-solid']
  ];
  series.forEach(s => {
    const p = mk('path', {d: polyPath(s[0], s[1], sx, sy), fill: 'none', stroke: s[2], 'stroke-width': 3.8, 'stroke-linejoin': 'round'}, g);
    if (s[3]) p.setAttribute('stroke-dasharray', s[3]);
    
    
  });
  const band = mk('rect', {x: sx(cMitosisSpan[0]), y: 549, width: sx(cMitosisSpan[1]) - sx(cMitosisSpan[0]), height: 272, fill: '#e5e5e5'}, g);
  
  
  const m = mk('text', {x: (sx(cMitosisSpan[0]) + sx(cMitosisSpan[1])) / 2, y: 700, 'text-anchor': 'middle', style: 'font-size:38px'}, g);
  m.textContent = 'M';
  
  
  axisLine(120.6, 553, 120.6, 827, 3.5, g, 'c-y-axis');
  axisLine(116, 825, 551, 825, 3.5, g, 'c-x-axis');
  yTicks(cYTicks, cYTicks.map(String), sy, 120.6, 6, 3, 107, 11, g, 'c-y-axis');
  yTicks(cYMinor, null, sy, 120.6, 4, 3, 0, 0, g, 'c-y-axis-minor');
  xTicks(cXTicks, cXTicks.map(String), sx, 826, 6, 2.5, 858, g, 'c-x-axis');
})();

/* ---------- Panel D ---------- */
(function () {
  const g = document.getElementById('panel-d');
  const sy = linear(0, 14, 824, 552.4);
  const centers = linear(0, 3, 777, 964.7);
  const half = 25.5;
  dEmbryos.forEach((name, i) => {
    const c = centers(i);
    const high = mk('rect', {x: c - half, y: sy(dLowCounts[i] + dHighCounts[i]), width: half * 2, height: sy(dLowCounts[i]) - sy(dLowCounts[i] + dHighCounts[i]), fill: '#3333ff', stroke: '#000', 'stroke-width': 2}, g);
    
    
    const low = mk('rect', {x: c - half, y: sy(dLowCounts[i]), width: half * 2, height: sy(0) - sy(dLowCounts[i]), fill: '#ff3333', stroke: '#000', 'stroke-width': 2}, g);
    
    
    axisLine(c, 824, c, 831, 2, g, 'd-x-axis-tick');
  });
  axisLine(728, 552, 728, 825, 2, g, 'd-y-axis');
  axisLine(722, 824, 1003.5, 824, 2, g, 'd-x-axis');
  yTicks(dYTicks, dYTicks.map(String), sy, 728, 5, 2, 724, 9, g, 'd-y-axis');
  yTicks(dYMinor, null, sy, 728, 3, 2, 0, 0, g, 'd-y-axis-minor');
})();

/* ---------- Panel E ---------- */
(function () {
  const g = document.getElementById('panel-e');
  const sx = linear(0, 4, 1326.4, 1625);
  const sy = linear(0, 12, 824, 565);
  eCounts.forEach((c, i) => {
    const bar = mk('rect', {x: sx(eBinEdges[i]), y: sy(c), width: sx(eBinEdges[i + 1]) - sx(eBinEdges[i]), height: sy(0) - sy(c), fill: '#808080', stroke: '#000', 'stroke-width': 2}, g);
    
    
  });
  axisLine(1311, 565, 1311, 825, 2, g, 'e-y-axis');
  axisLine(1306, 824, 1640, 824, 2.5, g, 'e-x-axis');
  yTicks(eYTicks, eYTicks.map(String), sy, 1311, 5, 2, 1304, 9, g, 'e-y-axis');
  yTicks(eYMinor, null, sy, 1311, 3, 2, 0, 0, g, 'e-y-axis-minor');
  xTicks(eXTicks, eXTicks.map(String), sx, 825, 6, 2, 855, g, 'e-x-axis');
})();

/* ---------- Panel F ---------- */
(function () {
  const g = document.getElementById('panel-f');
  const build = (mothers, daughters) => daughters.map((d, i) =>
    mothers[Math.floor(i / 2)].split(' ').concat(mitosisColumns, d.split(' ')));
  drawHeat(build(ksomMotherRows, ksomDaughterRows), 122.4, 1007.4, 9.55, 7.99, g, 'f-ksom-heatmap');
  drawFrame(120.5, 1005, 243.5, 355.5, 5, g, 'f-ksom-frame');
  drawHeat(build(mekiMotherRows, mekiDaughterRows), 385.5, 1137.6, 9.67, 8.52, g, 'f-meki-heatmap');
  drawFrame(383.3, 1135.2, 255.4, 225.4, 5, g, 'f-meki-frame');
  const fTicks = [-2, 0, 2];
  const fLabels = ['-2', 'M', '2'];
  xTicks(fTicks, fLabels, linear(-2, 2, 159, 340.6), 1363, 9.5, 3, 1395, g, 'f-ksom-x-axis', l => l === '-2' ? -5 : 2);
  xTicks(fTicks, fLabels, linear(-2, 2, 432.7, 616), 1363, 9.5, 3, 1395, g, 'f-meki-x-axis', l => l === '-2' ? -3 : 2);
})();

/* ---------- Panel G ---------- */
(function () {
  const g = document.getElementById('panel-g');
  const sx = linear(0, 2, 1134.7, 1527);
  const sy = linear(-2, 2, 1358, 1033);
  gKsomMother.forEach((m, i) => {
    const d = mk('circle', {cx: sx(m), cy: sy(gKsomDaughter[i]), r: 5.4, fill: '#111', 'fill-opacity': 0.9}, g);
    
    
  });
  gMekiMother.forEach((m, i) => {
    const d = mk('circle', {cx: sx(m), cy: sy(gMekiDaughter[i]), r: 5.4, fill: '#ff1a1a', 'fill-opacity': 0.92}, g);
    
    
  });
  axisLine(1134, 1033, 1134, 1360, 3.5, g, 'g-y-axis');
  axisLine(1127, 1358, 1529, 1358, 3.5, g, 'g-x-axis');
  yTicks(gYTicks, gYTicks.map(String), sy, 1134, 5, 3, 1124, 10, g, 'g-y-axis');
  xTicks(gXTicks, gXTicks.map(String), sx, 1359, 6, 3, 1394, g, 'g-x-axis');
})();

/* ---------- Panel H ---------- */
(function () {
  const g = document.getElementById('panel-h');
  const sy = linear(0, 2, 1778, 1582.7);
  const sx = linear(0, 2, 191, 406);
  const groups = [[hKsomLow, hKsomHigh], [hMekiLow, hMekiHigh], [hApciLow, hApciHigh]];
  groups.forEach((grp, c) => {
    const all = grp[0].map(v => [v, 0]).concat(grp[1].map(v => [v, 1])).sort((a, b) => b[0] - a[0]);
    const offs = swarm(all.map(a => a[0]), 8.5, 7.2, sy);
    all.forEach((p, i) => {
      const d = mk('circle', {cx: sx(c) + offs[i], cy: sy(p[0]), r: 3.5, fill: p[1] ? '#4d4dff' : '#ff4d4d'}, g);
      
      
    });
    const color = '#a80000';
    const stem = mk('line', {x1: sx(c), x2: sx(c), y1: sy(hErrorTop[c]), y2: sy(hErrorBottom[c]), stroke: color, 'stroke-width': 3}, g);
    
    
    const capTop = mk('line', {x1: sx(c) - 10, x2: sx(c) + 10, y1: sy(hErrorTop[c]), y2: sy(hErrorTop[c]), stroke: color, 'stroke-width': 3}, g);
    
    
    const capBottom = mk('line', {x1: sx(c) - 10, x2: sx(c) + 10, y1: sy(hErrorBottom[c]), y2: sy(hErrorBottom[c]), stroke: color, 'stroke-width': 3}, g);
    
    
    axisLine(sx(c), 1827, sx(c), 1833, 3, g, 'h-x-axis-tick');
    const ex = sx(c) + [13, 13.5, 16][c];
    const ey = [1854, 1855, 1857][c];
    const lab = mk('text', {'text-anchor': 'end', transform: 'translate(' + ex + ',' + ey + ') rotate(-45)'}, g);
    lab.textContent = hCategories[c];
    
    
  });
  axisLine(137, 1534, 137, 1829, 3.5, g, 'h-y-axis');
  axisLine(131.7, 1827, 454, 1827, 3.5, g, 'h-x-axis');
  yTicks(hYTicks, hYTicks.map(String), sy, 137, 5, 3, 124.5, 13, g, 'h-y-axis');
  yTicks(hYMinor, null, sy, 137, 4, 3, 0, 0, g, 'h-y-axis-minor');
})();

/* ---------- Panel I ---------- */
(function () {
  const root = document.getElementById('panel-i');
  const sy = linear(-2, 2, 1825, 1547);
  const panels = [
    {name: 'i-ksom', x0: 726.6, end: 1051, times: iKsomMotherTimes, mothers: iKsomMothers, daughters: iKsomDaughters, labelY: true, bandShift: 0},
    {name: 'i-meki', x0: 1073, end: 1397, times: iMekiMotherTimes, mothers: iMekiMothers, daughters: iMekiDaughters, labelY: false, bandShift: 0},
    {name: 'i-apci', x0: 1420.5, end: 1745.6, times: iApciMotherTimes, mothers: iApciMothers, daughters: iApciDaughters, labelY: false, bandShift: 2}
  ];
  panels.forEach(p => {
    const g = mk('g', {}, root);
    
    
    const sx = linear(0, 6, p.x0, p.x0 + 299.4);
    p.mothers.forEach(s => {
      const l = mk('path', {d: polyPath(p.times, s, sx, sy), fill: 'none', stroke: '#111', 'stroke-opacity': 0.82, 'stroke-width': 3.8, 'stroke-linejoin': 'round'}, g);
      
      
    });
    p.daughters.forEach(s => {
      const l = mk('path', {d: polyPath(iDaughterTimes, s, sx, sy), fill: 'none', stroke: '#111', 'stroke-opacity': 0.62, 'stroke-width': 3.8, 'stroke-linejoin': 'round'}, g);
      
      
    });
    const bx = sx(iMitosisSpan[0]) + p.bandShift;
    const bw = sx(iMitosisSpan[1]) - sx(iMitosisSpan[0]);
    const band = mk('rect', {x: bx, y: 1541.7, width: bw, height: 282.3, fill: '#e5e5e5'}, g);
    
    
    const m = mk('text', {x: bx + bw / 2, y: 1697, 'text-anchor': 'middle', style: 'font-size:34px'}, g);
    m.textContent = 'M';
    
    
    axisLine(p.x0 - 1.6, 1547, p.x0 - 1.6, 1827, 2.5, g, p.name + '-y-axis');
    axisLine(p.x0 - 3, 1825.5, p.end, 1825.5, 3, g, p.name + '-x-axis');
    yTicks(iYTicks, p.labelY ? iYTicks.map(String) : null, sy, p.x0 - 1.6, 4, 2.5, 718, 10, g, p.name + '-y-axis');
    xTicks(iXTicks, iXTicks.map(String), sx, 1826, 6, 2, 1858, g, p.name + '-x-axis');
  });
})();
</script>
</body>
</html>
